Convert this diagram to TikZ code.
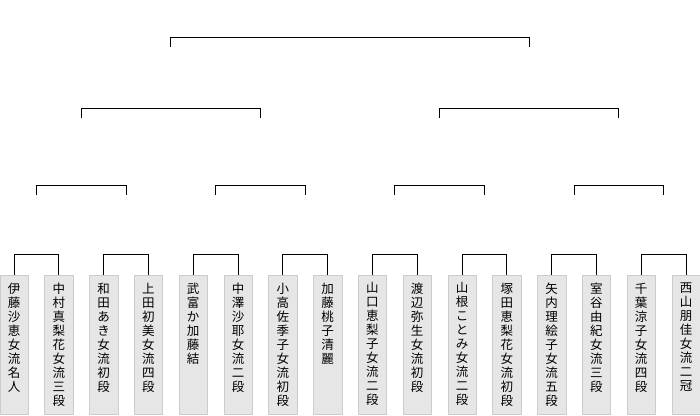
\documentclass[tikz,border=0pt]{standalone}
\usepackage{fontspec}
\newfontfamily\jpfont{Noto Sans CJK JP}
\usetikzlibrary{calc,positioning}
\definecolor{boxgray}{HTML}{E6E6E6}
\definecolor{boxedge}{HTML}{CCCCCC}
\tikzset{line/.style={line width=1pt, black},
  player/.style={draw=boxedge, fill=boxgray, minimum width=28.5pt, minimum height=139pt, inner sep=0pt, anchor=north},
  tate/.style={font=\jpfont\fontsize{12.5pt}{14pt}\selectfont, align=center, inner sep=0pt, anchor=north}}

\begin{document}
\begin{tikzpicture}[x=1pt, y=-1pt]
  \useasboundingbox (0,0) rectangle (700,415);
  % player boxes with vertical names
  \foreach \i/\t in {1/{伊\\藤\\沙\\恵\\女\\流\\名\\人}, 2/{中\\村\\真\\梨\\花\\女\\流\\三\\段},
      3/{和\\田\\あ\\き\\女\\流\\初\\段}, 4/{上\\田\\初\\美\\女\\流\\四\\段},
      5/{武\\富\\か\\加\\藤\\結}, 6/{中\\澤\\沙\\耶\\女\\流\\二\\段},
      7/{小\\高\\佐\\季\\子\\女\\流\\初\\段}, 8/{加\\藤\\桃\\子\\清\\麗},
      9/{山\\口\\恵\\梨\\子\\女\\流\\二\\段}, 10/{渡\\辺\\弥\\生\\女\\流\\初\\段},
      11/{山\\根\\こ\\と\\み\\女\\流\\二\\段}, 12/{塚\\田\\恵\\梨\\花\\女\\流\\初\\段},
      13/{矢\\内\\理\\絵\\子\\女\\流\\五\\段}, 14/{室\\谷\\由\\紀\\女\\流\\三\\段},
      15/{千\\葉\\涼\\子\\女\\流\\四\\段}, 16/{西\\山\\朋\\佳\\女\\流\\二\\冠}}{
    \node[player] (p\i) at ({14+44.8*(\i-1)},274.5) {};
    \node[tate, below=8pt of p\i.north] (n\i) {\t};}
  % first round
  \foreach \a/\b in {1/2, 3/4, 5/6, 7/8, 9/10, 11/12, 13/14, 15/16}{
    \draw[line] (p\a.north) -- ++(0,-20.5) -| (p\b.north);}
  % second round
  \foreach \j in {0,...,3}{
    \coordinate (s\j) at ({36.4+179.2*\j},195);
    \draw[line] (s\j) -- ++(0,-9.5) -| ++(89.6,9.5);}
  % semi finals
  \foreach \j in {0,1}{
    \coordinate (q\j) at ({81.2+358.4*\j},118);
    \draw[line] (q\j) -- ++(0,-10) -| ++(179.2,10);}
  % final
  \coordinate (f0) at (170.8,47);
  \draw[line] (f0) -- ++(0,-10) -| ++(358.4,10);
\end{tikzpicture}
\end{document}
